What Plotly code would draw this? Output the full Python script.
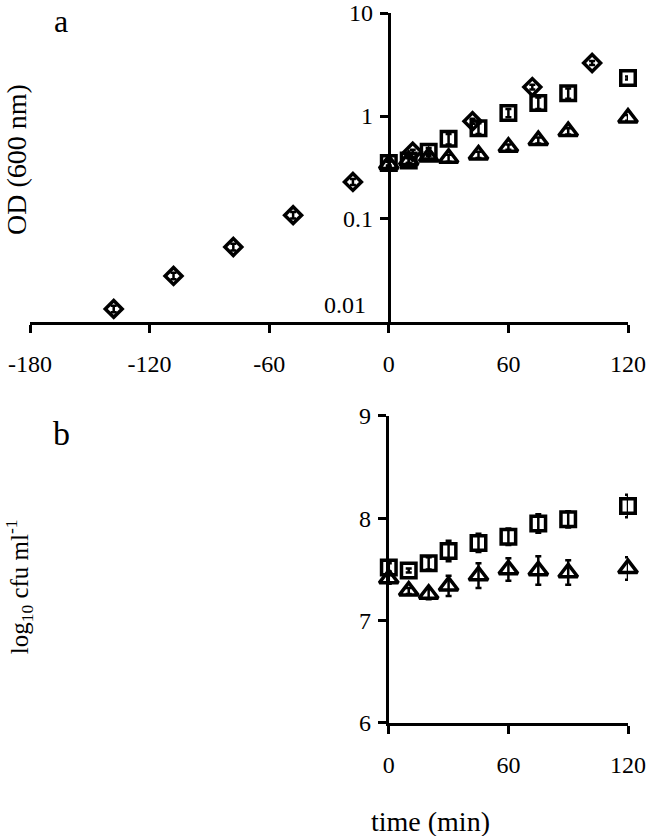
import plotly.graph_objects as go

# ---- data ----
# panel a: OD600 (log scale)
pre_t = [-138, -108, -78, -48, -18, 12, 42, 72, 102]
pre_od = [0.0134, 0.028, 0.0535, 0.109, 0.229, 0.45, 0.89, 1.91, 3.27]
pre_err = [0.001, 0.002, 0.004, 0.008, 0.015, 0.02, 0.05, 0.1, 0.15]

t = [0, 10, 20, 30, 45, 60, 75, 90, 120]
sq_od = [0.35, 0.37, 0.45, 0.60, 0.76, 1.07, 1.34, 1.66, 2.34]
sq_od_err = [0.02, 0.02, 0.04, 0.07, 0.09, 0.10, 0.17, 0.19, 0.08]
tri_od = [0.34, 0.37, 0.40, 0.39, 0.42, 0.50, 0.58, 0.71, 0.96]
tri_od_err = [0.02, 0.02, 0.03, 0.03, 0.03, 0.03, 0.04, 0.05, 0.06]

# panel b: log10 cfu/ml
sq_cfu = [7.52, 7.49, 7.56, 7.68, 7.76, 7.82, 7.95, 7.99, 8.12]
sq_cfu_err = [0.04, 0.02, 0.06, 0.10, 0.09, 0.08, 0.09, 0.08, 0.11]
tri_cfu = [7.41, 7.29, 7.26, 7.34, 7.44, 7.50, 7.49, 7.47, 7.51]
tri_cfu_err = [0.05, 0.03, 0.05, 0.10, 0.12, 0.11, 0.14, 0.12, 0.11]

xa_ticks = [-180, -120, -60, 0, 60, 120]
ya_ticks = [0.1, 1, 10]
ya_ticktext = ["0.1", "1", "10"]
ya_bottom_label = "0.01"
xb_ticks = [0, 60, 120]
yb_ticks = [6, 7, 8, 9]

FONT = "Liberation Serif, Times New Roman, serif"
BLK = "black"

fig = go.Figure()

def add(x, y, err, symbol, size, xaxis, yaxis):
    fig.add_trace(go.Scatter(
        x=x, y=y, mode="markers", xaxis=xaxis, yaxis=yaxis,
        marker=dict(symbol=symbol, size=size, color=BLK,
                    line=dict(color=BLK, width=3.5)),
        error_y=dict(type="data", array=err, visible=True, color=BLK,
                     thickness=2.5, width=3),
        cliponaxis=False, showlegend=False))

add(pre_t, pre_od, pre_err, "diamond-open", 13, "x", "y")
add(t, sq_od, sq_od_err, "square-open", 14.5, "x", "y")
add(t, tri_od, tri_od_err, "triangle-up-open", 16.5, "x", "y")
add(t, sq_cfu, sq_cfu_err, "square-open", 14.5, "x2", "y2")
add(t, tri_cfu, tri_cfu_err, "triangle-up-open", 16.5, "x2", "y2")

axis_common = dict(showline=True, linecolor=BLK, linewidth=3, ticks="outside",
                   ticklen=8, tickwidth=3, tickcolor=BLK, showgrid=False,
                   zeroline=False, automargin=False,
                   tickfont=dict(family=FONT, size=24, color=BLK))

fig.update_layout(
    width=650, height=836,
    margin=dict(l=30, r=22, t=13, b=113, autoexpand=False),
    plot_bgcolor="white", paper_bgcolor="white",
    font=dict(family=FONT, size=24, color=BLK),
    xaxis=dict(domain=[0, 1], range=[-180, 120], anchor="y", ticklabelstandoff=10,
               tickvals=xa_ticks, ticktext=[str(v) for v in xa_ticks], **axis_common),
    yaxis=dict(domain=[0.5648, 1], type="log", range=[-2, 1], anchor="free",
               position=0.6, ticklabelstandoff=2,
               tickvals=ya_ticks, ticktext=ya_ticktext, **axis_common),
    xaxis2=dict(domain=[0.6, 1], range=[0, 120], anchor="y2", ticklabelstandoff=10,
                tickvals=xb_ticks, ticktext=[str(v) for v in xb_ticks], **axis_common),
    yaxis2=dict(domain=[0, 0.4324], range=[6, 9], anchor="x2", ticklabelstandoff=2,
                tickvals=yb_ticks, ticktext=[str(v) for v in yb_ticks], **axis_common),
)

ann_font = dict(family=FONT, size=28, color=BLK)
fig.add_annotation(text=ya_bottom_label, xref="paper", yref="paper", x=0.565, y=0.5887,
                   xanchor="right", yanchor="middle", showarrow=False,
                   font=dict(family=FONT, size=24, color=BLK))
fig.add_annotation(text="a", xref="paper", yref="paper", x=0.052, y=0.9887,
                   xanchor="center", yanchor="middle", showarrow=False,
                   font=dict(family=FONT, size=32, color=BLK))
fig.add_annotation(text="b", xref="paper", yref="paper", x=0.052, y=0.408,
                   xanchor="center", yanchor="middle", showarrow=False,
                   font=dict(family=FONT, size=34, color=BLK))
fig.add_annotation(text="OD (600 nm)", xref="paper", yref="paper", x=-0.0217, y=0.793,
                   xanchor="center", yanchor="middle", textangle=-90, showarrow=False,
                   font=ann_font)
fig.add_annotation(text="log<sub>10</sub> cfu ml<sup>-1</sup>", xref="paper", yref="paper",
                   x=-0.018, y=0.1915, xanchor="center", yanchor="middle", textangle=-90,
                   showarrow=False, font=dict(family=FONT, size=25, color=BLK))
fig.add_annotation(text="time (min)", xref="paper", yref="paper", x=0.669, y=-0.139,
                   xanchor="center", yanchor="middle", showarrow=False, font=ann_font)

fig.write_html("out.html", config={"displayModeBar": False},
               post_script="document.body.style.margin='0';document.body.style.overflow='hidden';")
